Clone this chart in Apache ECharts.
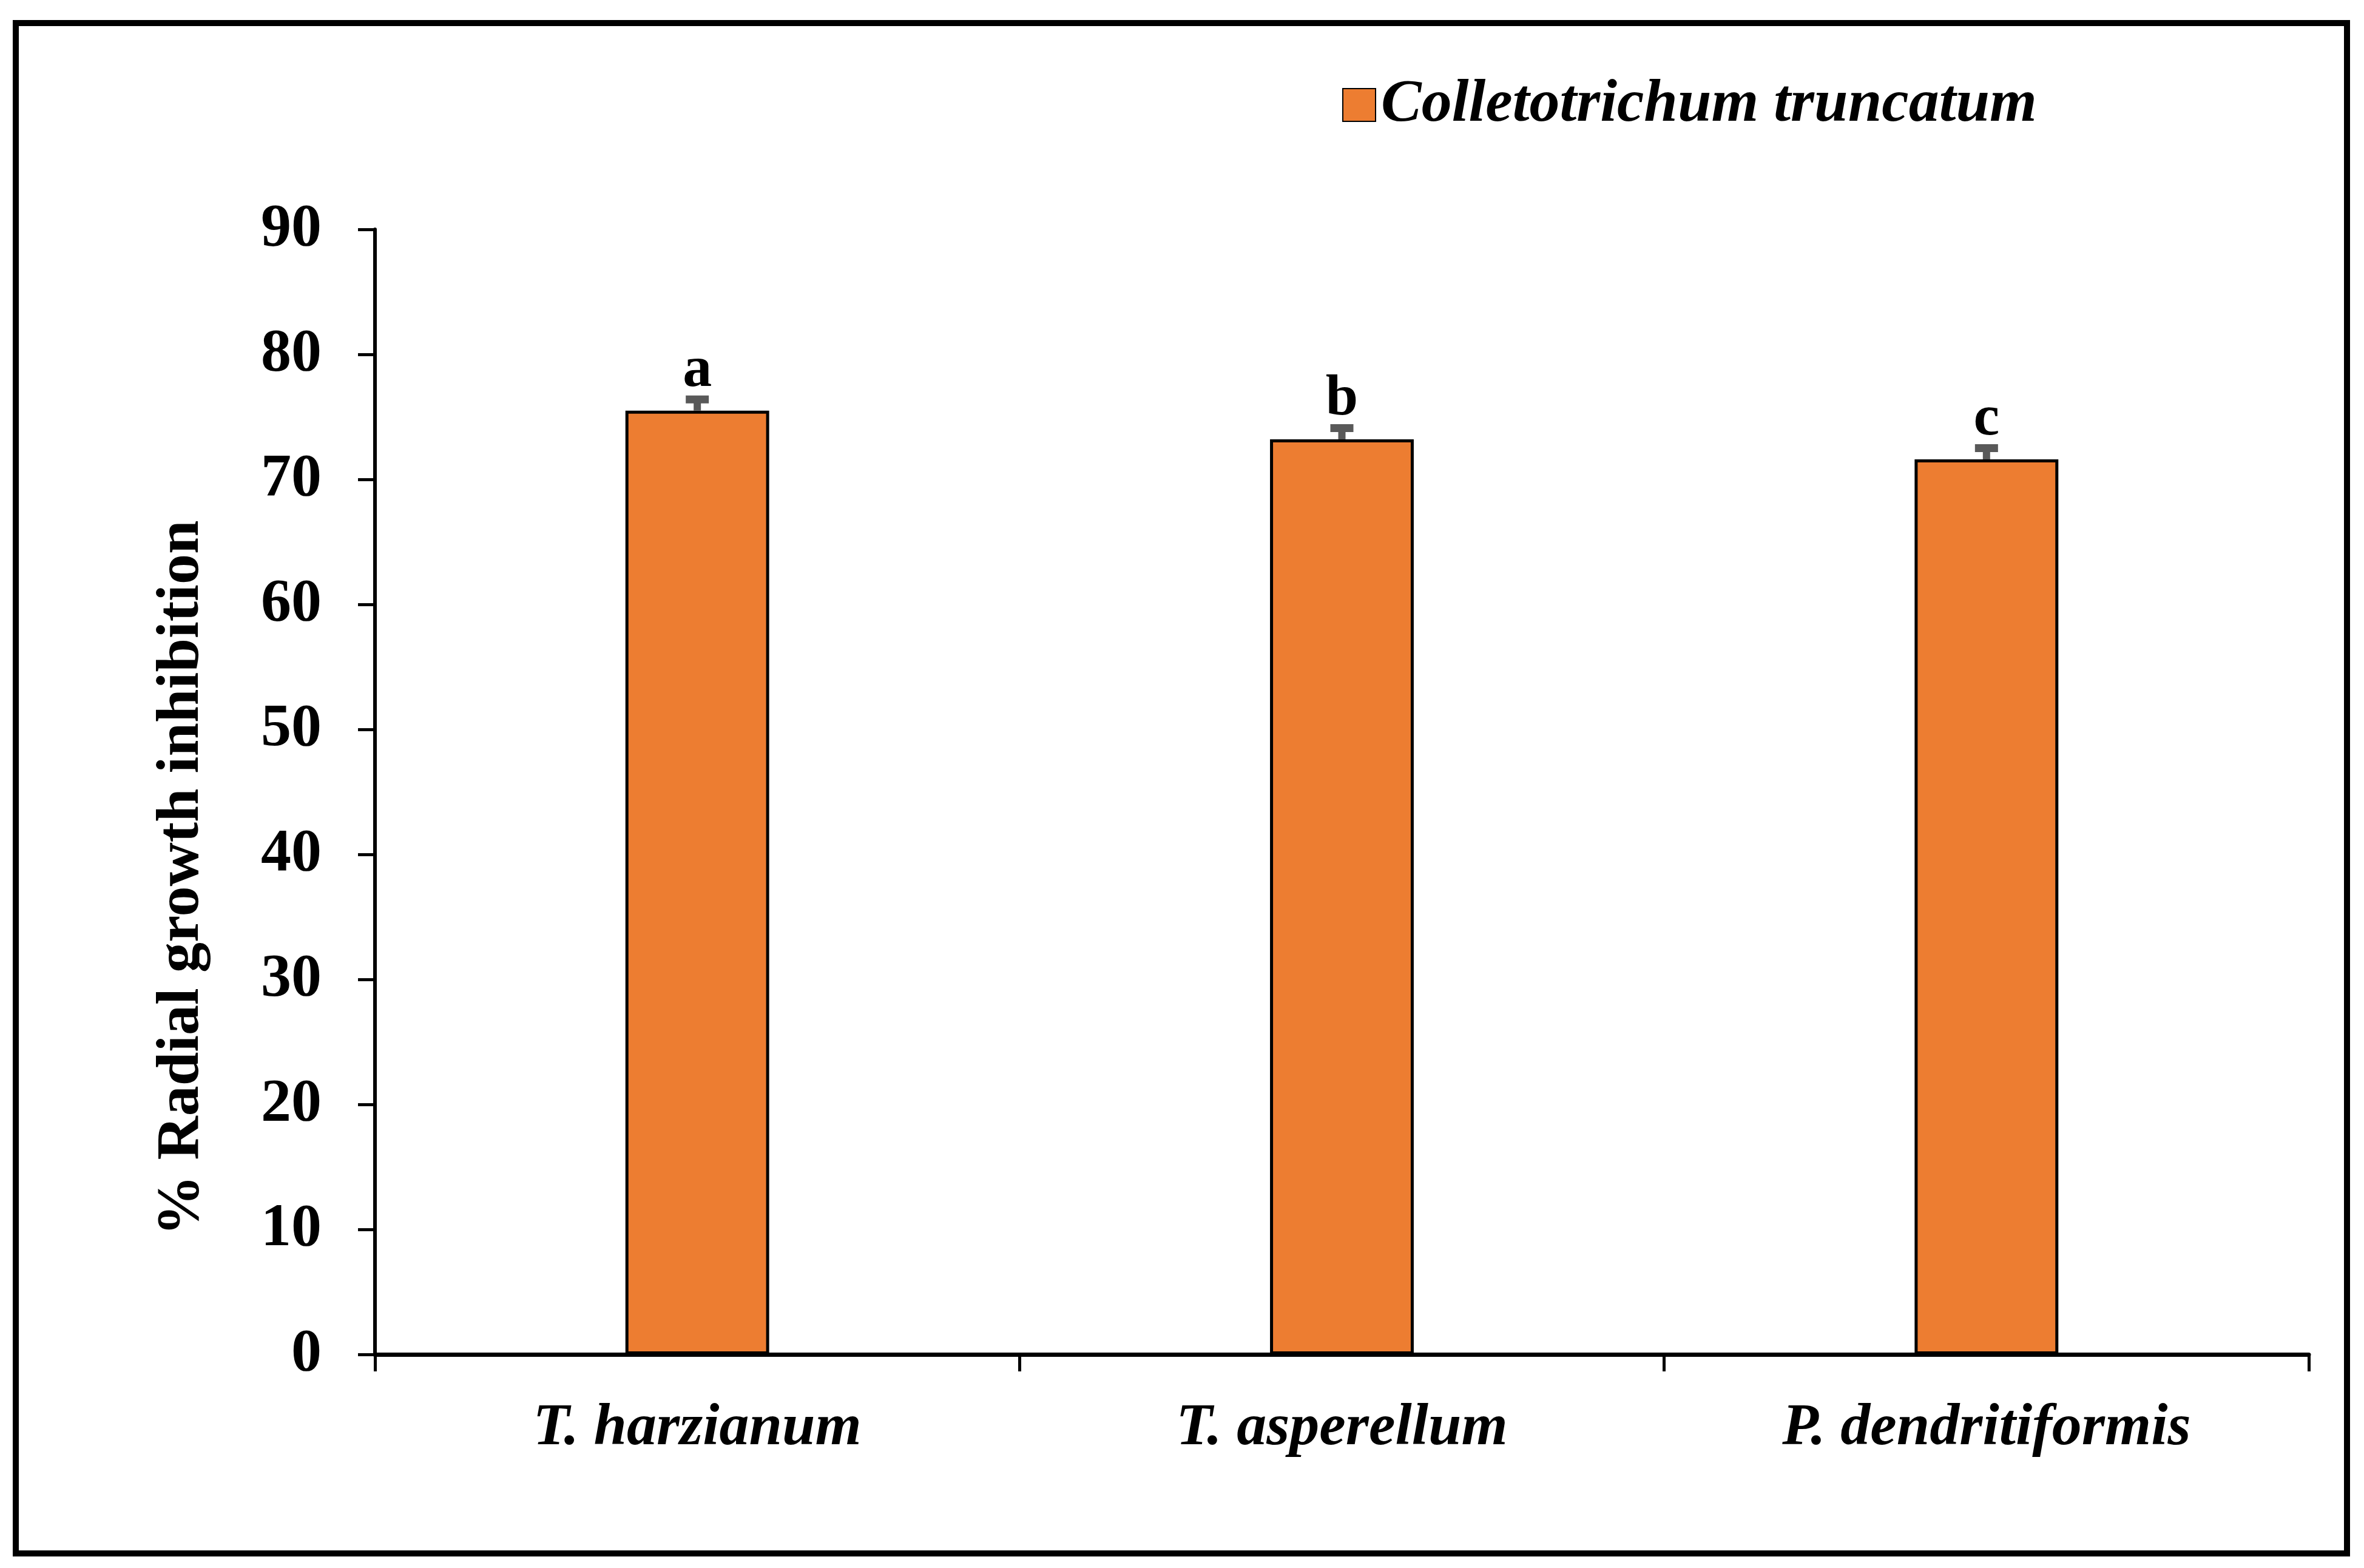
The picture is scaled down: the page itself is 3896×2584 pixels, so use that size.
<!DOCTYPE html>
<html>
<head>
	<meta charset="utf-8">
	<script src="https://cdn.jsdelivr.net/npm/echarts@6/dist/echarts.min.js"></script>
	<style>
		html, body {margin: 0; padding: 0; background: #fff;}
		#chart {width: 3896px; height: 2584px;}
	</style>
</head>
<body>
	<div id="chart"></div>
	<script>
		// data
		var categories = ['T. harzianum', 'T. asperellum', 'P. dendritiformis'];
		var inhibition = [75.5, 73.2, 71.6];
		var errors = [0.9, 0.9, 0.9];
		var letters = ['a', 'b', 'c'];
		var seriesName = 'Colletotrichum truncatum';
		var yTitle = '% Radial growth inhibition';

		var serif = '"Liberation Serif", "Times New Roman", serif';

		var errData = [];
		for (var i = 0; i < inhibition.length; i++) {
			errData.push([i, inhibition[i], errors[i]]);
		}

		var option = {
			backgroundColor: '#fff',
			animation: false,
			grid: {left: 618, right: 91, top: 378, bottom: 352, containLabel: false},
			legend: {
				data: [seriesName],
				left: 2207,
				top: 118,
				icon: 'rect',
				itemWidth: 54,
				itemHeight: 54,
				itemGap: 20,
				textStyle: {fontFamily: serif, fontSize: 100, fontWeight: 'bold', fontStyle: 'italic', color: '#000', padding: [0, 0, 0, 4]}
			},
			xAxis: {
				type: 'category',
				data: categories,
				axisLine: {lineStyle: {color: '#000', width: 7}},
				axisTick: {show: true, length: 28, lineStyle: {color: '#000', width: 5}},
				axisLabel: {margin: 74, fontFamily: serif, fontSize: 98, fontWeight: 'bold', fontStyle: 'italic', color: '#000'},
				splitLine: {show: false}
			},
			yAxis: {
				type: 'value',
				min: 0,
				max: 90,
				interval: 10,
				axisLine: {show: true, lineStyle: {color: '#000', width: 6}},
				axisTick: {show: true, length: 28, lineStyle: {color: '#000', width: 5}},
				axisLabel: {margin: 88, fontFamily: serif, fontSize: 100, fontWeight: 'bold', color: '#000'},
				splitLine: {show: false}
			},
			graphic: [
				{
					type: 'rect',
					shape: {x: 26, y: 38, width: 3842, height: 2522},
					style: {fill: 'none', stroke: '#000', lineWidth: 10},
					silent: true
				},
				{
					type: 'text',
					x: 300,
					y: 1447,
					rotation: Math.PI / 2,
					style: {
						text: yTitle,
						fill: '#000',
						font: 'bold 100px ' + serif,
						align: 'center',
						verticalAlign: 'middle'
					}
				}
			],
			series: [
				{
					name: seriesName,
					type: 'bar',
					data: inhibition,
					barWidth: '22.3%',
					itemStyle: {color: '#ED7D31', borderColor: '#000', borderWidth: 5}
				},
				{
					name: 'err',
					type: 'custom',
					data: errData,
					encode: {x: 0, y: 1},
					z: 5,
					renderItem: function (params, api) {
						var idx = params.dataIndex;
						var base = api.coord([api.value(0), api.value(1)]);
						var top = api.coord([api.value(0), api.value(1) + api.value(2)]);
						var half = 19;
						return {
							type: 'group',
							children: [
								{type: 'line', shape: {x1: base[0], y1: base[1], x2: top[0], y2: top[1]}, style: {stroke: '#595959', lineWidth: 12}},
								{type: 'line', shape: {x1: top[0] - half, y1: top[1], x2: top[0] + half, y2: top[1]}, style: {stroke: '#595959', lineWidth: 13}},
								{type: 'text', x: top[0], y: top[1] + 1, style: {text: letters[idx], fill: '#000', font: 'bold 96px ' + serif, align: 'center', verticalAlign: 'bottom'}}
							]
						};
					}
				}
			]
		};

		var myChart = echarts.init(document.getElementById('chart'));
		myChart.setOption(option);
	</script>
</body>
</html>
